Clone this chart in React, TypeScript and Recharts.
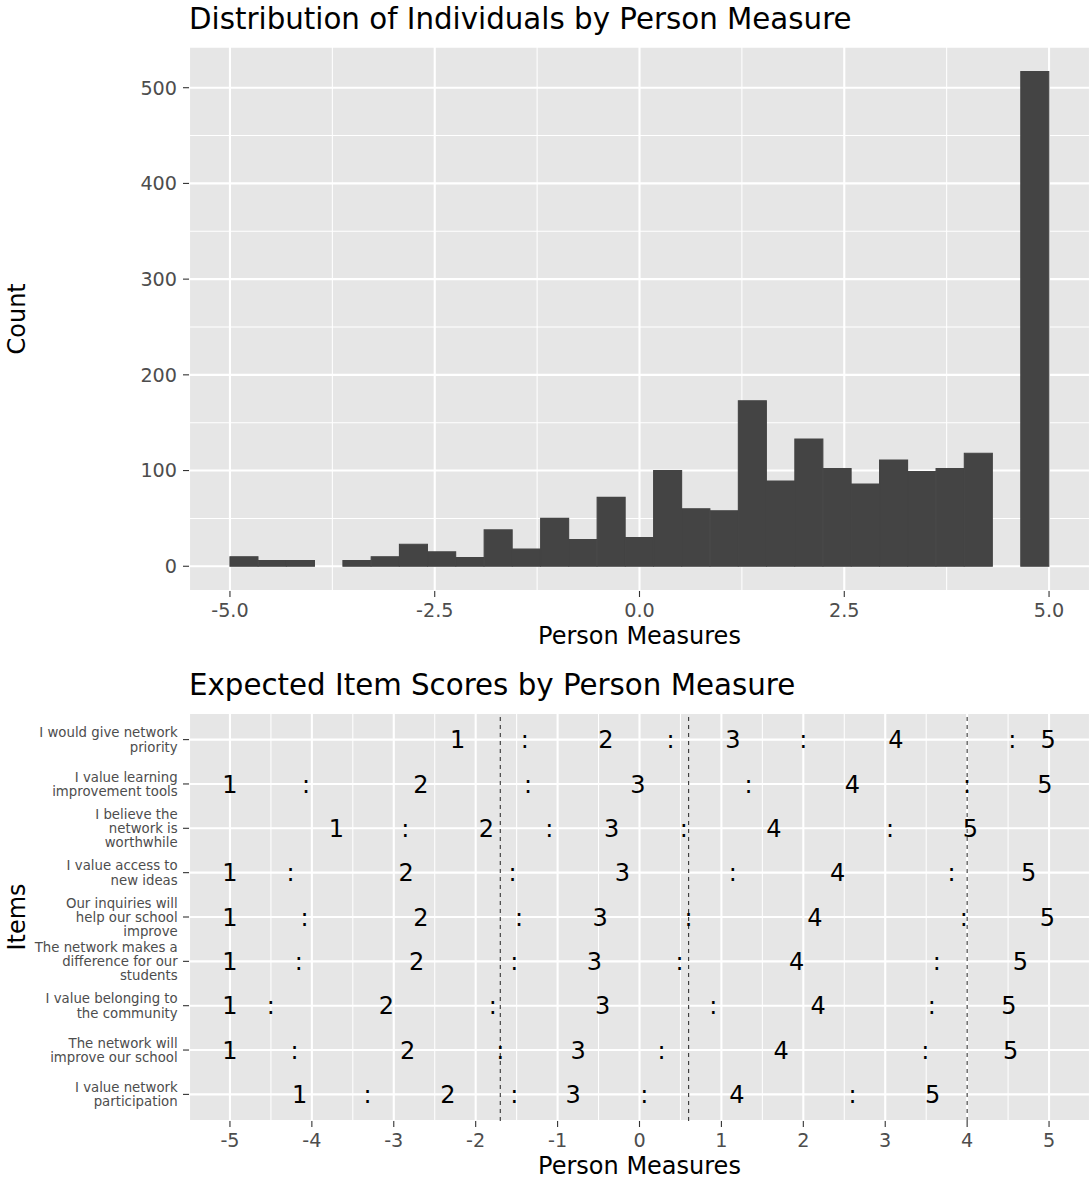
import React from 'react';
import {
  BarChart,
  Bar,
  XAxis,
  YAxis,
  CartesianGrid,
  ReferenceLine,
  ScatterChart,
  Scatter,
} from 'recharts';

const FONT = '"DejaVu Sans", Verdana, sans-serif';
const PANEL_BG = '#E6E6E6';
const TICK_TEXT = '#4D4D4D';
const TICK_LINE = '#333333';
const BAR_FILL = '#444444';

// ---------- Histogram data ----------
const binCenters = [
  -4.8276, -4.4828, -4.1379, -3.7931, -3.4483, -3.1034, -2.7586, -2.4138, -2.069, -1.7241,
  -1.3793, -1.0345, -0.6897, -0.3448, 0.0, 0.3448, 0.6897, 1.0345, 1.3793, 1.7241,
  2.069, 2.4138, 2.7586, 3.1034, 3.4483, 3.7931, 4.1379, 4.4828, 4.8276,
];
const binCounts = [
  10, 6, 6, 0, 6, 10, 23, 15, 9, 38,
  18, 50, 28, 72, 30, 100, 60, 58, 173, 89,
  133, 102, 86, 111, 99, 102, 118, 0, 517,
];
const histXTicks = [-5, -2.5, 0, 2.5, 5];
const histXMinor = [-3.75, -1.25, 1.25, 3.75];
const histYTicks = [0, 100, 200, 300, 400, 500];
const histYMinor = [50, 150, 250, 350, 450];

// ---------- Expected item score data ----------
const items = [
  'I would give network\npriority',
  'I value learning\nimprovement tools',
  'I believe the\nnetwork is\nworthwhile',
  'I value access to\nnew ideas',
  'Our inquiries will\nhelp our school\nimprove',
  'The network makes a\ndifference for our\nstudents',
  'I value belonging to\nthe community',
  'The network will\nimprove our school',
  'I value network\nparticipation',
];
const scoreLabels = ['1', ':', '2', ':', '3', ':', '4', ':', '5'];
const posPriority = [-2.22, -1.4, -0.41, 0.38, 1.14, 2.0, 3.13, 4.55, 4.99];
const posLearningTools = [-5.0, -4.07, -2.67, -1.36, -0.02, 1.33, 2.6, 4.0, 4.95];
const posWorthwhile = [-3.7, -2.86, -1.87, -1.1, -0.34, 0.54, 1.64, 3.06, 4.04];
const posNewIdeas = [-5.0, -4.26, -2.85, -1.55, -0.21, 1.14, 2.42, 3.81, 4.75];
const posInquiries = [-5.0, -4.09, -2.67, -1.47, -0.48, 0.6, 2.14, 3.96, 4.98];
const posDifference = [-5.0, -4.16, -2.72, -1.53, -0.55, 0.49, 1.92, 3.63, 4.65];
const posBelonging = [-5.0, -4.5, -3.09, -1.79, -0.45, 0.9, 2.18, 3.57, 4.51];
const posImproveSchool = [-5.0, -4.21, -2.83, -1.7, -0.75, 0.27, 1.73, 3.49, 4.53];
const posParticipation = [-4.15, -3.32, -2.34, -1.53, -0.81, 0.06, 1.19, 2.6, 3.58];
const itemPositions = [
  posPriority,
  posLearningTools,
  posWorthwhile,
  posNewIdeas,
  posInquiries,
  posDifference,
  posBelonging,
  posImproveSchool,
  posParticipation,
];
const thresholdLines = [-1.7, 0.6, 4.0];
const scoreXTicks = [-5, -4, -3, -2, -1, 0, 1, 2, 3, 4, 5];
const scoreXMinor = [-4.5, -3.5, -2.5, -1.5, -0.5, 0.5, 1.5, 2.5, 3.5, 4.5];
const rowTicks = items.map((_, i) => i);

// ---------- derived tables ----------
const histData = binCenters.map((c, i) => ({ center: c, count: binCounts[i] }));
const maxCount = Math.max(...binCounts);
const histYDomain = [-0.05 * maxCount, 1.05 * maxCount];

const scoreData = itemPositions.flatMap((row, r) =>
  row.map((x, j) => ({ x, row: r, label: scoreLabels[j] }))
);

// ---------- render helpers ----------
const XTitle = (props: any) => {
  const vb = props.viewBox || {};
  return (
    <text
      x={vb.x + vb.width / 2}
      y={vb.y + 52.5}
      textAnchor="middle"
      fontSize={24}
      fontFamily={FONT}
      fill="#000"
    >
      Person Measures
    </text>
  );
};

const makeYTitle = (title: string) => (props: any) => {
  const vb = props.viewBox || {};
  const cy = vb.y + vb.height / 2;
  const x = vb.x + 25;
  return (
    <text
      x={x}
      y={cy}
      transform={`rotate(-90 ${x} ${cy})`}
      textAnchor="middle"
      fontSize={24}
      fontFamily={FONT}
      fill="#000"
    >
      {title}
    </text>
  );
};

const ItemTick = (props: any) => {
  const { x, y, payload } = props;
  const lines = items[payload.value].split('\n');
  const lh = 14.3;
  return (
    <text x={x} y={y} textAnchor="end" fontSize={13.3} fontFamily={FONT} fill={TICK_TEXT}>
      {lines.map((l, k) => (
        <tspan key={k} x={x} y={y + (k - (lines.length - 1) / 2) * lh} dy="0.364em">
          {l}
        </tspan>
      ))}
    </text>
  );
};

const ScoreText = (props: any) => {
  const { cx, cy, payload } = props;
  return (
    <text
      x={cx}
      y={cy}
      dy="0.364em"
      textAnchor="middle"
      fontSize={24}
      fontFamily={FONT}
      fill="#000"
    >
      {payload.label}
    </text>
  );
};

const tickStyle = { fill: TICK_TEXT, fontSize: 19.2, fontFamily: FONT };
const tickLineStyle = { stroke: TICK_LINE, strokeWidth: 1.1 };

const Title = ({ text, y }: { text: string; y: number }) => (
  <svg
    width={1092}
    height={60}
    style={{ position: 'absolute', left: 0, top: 0, overflow: 'visible', pointerEvents: 'none' }}
  >
    <text x={189} y={y} fontSize={29.3} fontFamily={FONT} fill="#000">
      {text}
    </text>
  </svg>
);

export default function App() {
  return (
    <div
      style={{
        position: 'absolute',
        left: 0,
        top: 0,
        width: 1092,
        height: 1178,
        background: '#fff',
        fontFamily: FONT,
      }}
    >
      {/* Histogram */}
      <div style={{ position: 'absolute', left: 0, top: 0, width: 1092, height: 655 }}>
        <BarChart
          width={1092}
          height={655}
          data={histData}
          margin={{ top: 46.7, right: 2, bottom: 0, left: 0 }}
          barCategoryGap={0}
          barGap={0}
        >
          <CartesianGrid fill={PANEL_BG} stroke="#FFFFFF" strokeWidth={2.1} />
          {histXMinor.map((v) => (
            <ReferenceLine key={`hx${v}`} x={v} stroke="#FFFFFF" strokeWidth={1.05} zIndex={-90} />
          ))}
          {histYMinor.map((v) => (
            <ReferenceLine key={`hy${v}`} y={v} stroke="#FFFFFF" strokeWidth={1.05} zIndex={-90} />
          ))}
          <XAxis
            type="number"
            dataKey="center"
            domain={[-5.5, 5.5]}
            allowDataOverflow
            ticks={histXTicks}
            interval={0}
            tickFormatter={(v: number) => v.toFixed(1)}
            height={64}
            tick={tickStyle}
            tickLine={tickLineStyle}
            tickSize={6}
            tickMargin={6.7}
            axisLine={false}
            label={XTitle}
          />
          <YAxis
            type="number"
            domain={histYDomain}
            allowDataOverflow
            ticks={histYTicks}
            interval={0}
            width={189}
            tick={tickStyle}
            tickLine={tickLineStyle}
            tickSize={6}
            tickMargin={6}
            axisLine={false}
            label={makeYTitle('Count')}
          />
          <Bar
            dataKey="count"
            fill={BAR_FILL}
            stroke={BAR_FILL}
            strokeWidth={1.1}
            isAnimationActive={false}
          />
        </BarChart>
        <Title text="Distribution of Individuals by Person Measure" y={29.3} />
      </div>

      {/* Expected item scores */}
      <div style={{ position: 'absolute', left: 0, top: 655, width: 1092, height: 523 }}>
        <ScatterChart
          width={1092}
          height={523}
          margin={{ top: 58, right: 2, bottom: 0, left: 0 }}
        >
          <CartesianGrid fill={PANEL_BG} stroke="#FFFFFF" strokeWidth={2.1} />
          {scoreXMinor.map((v) => (
            <ReferenceLine key={`sx${v}`} x={v} stroke="#FFFFFF" strokeWidth={1.05} zIndex={-90} />
          ))}
          {thresholdLines.map((v) => (
            <ReferenceLine
              key={`t${v}`}
              x={v}
              stroke="#222222"
              strokeWidth={1}
              strokeDasharray="4 4"
            />
          ))}
          <XAxis
            type="number"
            dataKey="x"
            domain={[-5.5, 5.5]}
            allowDataOverflow
            ticks={scoreXTicks}
            interval={0}
            height={57}
            tick={tickStyle}
            tickLine={tickLineStyle}
            tickSize={6}
            tickMargin={6.7}
            axisLine={false}
            label={XTitle}
          />
          <YAxis
            type="number"
            dataKey="row"
            domain={[-0.6, items.length - 0.4]}
            allowDataOverflow
            reversed
            ticks={rowTicks}
            interval={0}
            width={189}
            tick={<ItemTick />}
            tickLine={tickLineStyle}
            tickSize={6}
            tickMargin={5.3}
            axisLine={false}
            label={makeYTitle('Items')}
          />
          <Scatter data={scoreData} shape={<ScoreText />} isAnimationActive={false} />
        </ScatterChart>
        <Title text="Expected Item Scores by Person Measure" y={40.3} />
      </div>
    </div>
  );
}
